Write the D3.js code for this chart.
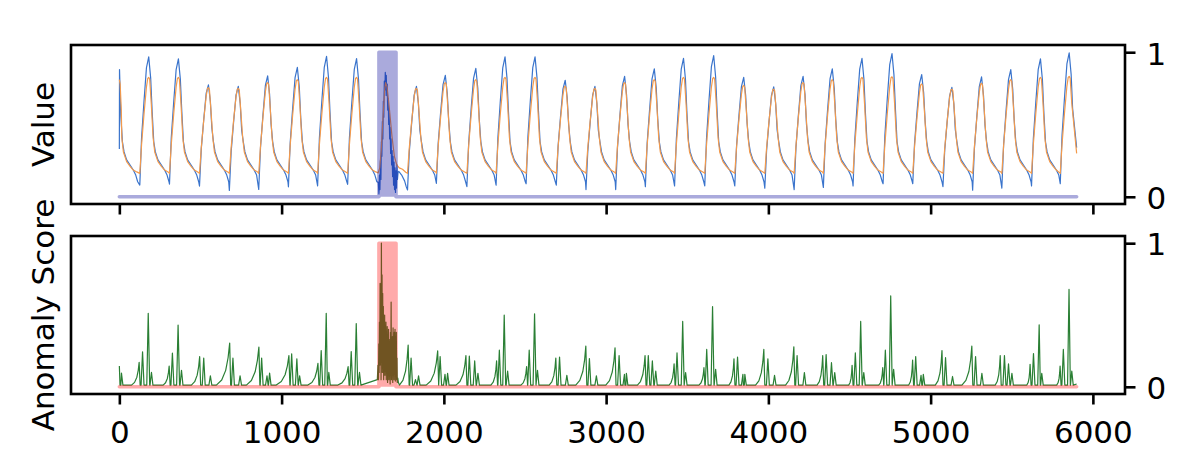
<!DOCTYPE html>
<html>
<head>
<meta charset="utf-8">
<script src="https://cdn.jsdelivr.net/npm/d3@7"></script>
<style>
  body { margin: 0; background: #fff; }
  svg { display: block; }
  text { font-family: "DejaVu Sans", sans-serif; }
</style>
</head>
<body>
<div id="chart"></div>
<script>
// --- valeurs ---
// position (x) des sommets de chaque cycle, hauteur du signal et du creux qui le précède
const peakX = [-12, 181, 364, 549, 733, 914, 1097, 1277, 1462, 1831, 2009, 2197, 2377, 2562, 2748, 2931,
  3114, 3297, 3477, 3663, 3848, 4033, 4214, 4394, 4577, 4762, 4945, 5131, 5314, 5494, 5677, 5854];
const bluePeak = [0.88, 0.968, 0.954, 0.774, 0.764, 0.837, 0.895, 0.972, 0.956, 0.764, 0.84, 0.889, 0.968,
  0.968, 0.806, 0.764, 0.833, 0.885, 0.958, 0.977, 0.826, 0.76, 0.833, 0.885, 0.958, 0.991, 0.845, 0.757,
  0.829, 0.88, 0.954, 0.996];
const blueTrough = [null, 0.081, 0.088, 0.074, 0.044, 0.051, 0.069, 0.076, 0.086, 0.047, 0.093, 0.07, 0.08,
  0.09, 0.08, 0.05, 0.05, 0.07, 0.075, 0.075, 0.075, 0.06, 0.05, 0.065, 0.075, 0.09, 0.09, 0.07, 0.045,
  0.06, 0.075, 0.09];
const orangePeak = [0.81, 0.826, 0.826, 0.755, 0.75, 0.79, 0.81, 0.826, 0.826, 0.75, 0.79, 0.81, 0.826,
  0.826, 0.765, 0.75, 0.79, 0.81, 0.826, 0.826, 0.77, 0.745, 0.79, 0.81, 0.826, 0.83, 0.78, 0.745, 0.785,
  0.81, 0.826, 0.833];
const orangeFloor = 0.162;

// forme d'un cycle, relevée sur un battement (décalage depuis le sommet)
const blueRiseDx = [-44, -29, -14], blueRiseFrac = [0.37, 0.655, 0.915];
const blueFallDx = [12, 21], blueFallFrac = [0.836, 0.576];
const blueTailDx = [31, 41, 57, 78, 98, 113, 125];
const blueTailV = [0.38, 0.31, 0.255, 0.22, 0.185, 0.15, 0.104];
const orangeRiseDx = [-44, -29, -14, -6], orangeRiseFrac = [0.3, 0.62, 0.9, 0.99];
const orangeFallDx = [6, 16], orangeFallFrac = [0.98, 0.72];
const orangeTailDx = [27, 37, 57, 78, 98, 119];
const orangeTailV = [0.41, 0.31, 0.243, 0.21, 0.185, 0.172];

// début, fin et zone d'anomalie
const blueHead = [[0, 0.33], [1, 0.88], [9, 0.56]];
const orangeHead = [[0, 0.81], [5, 0.78], [12, 0.6]];
const blueEnd = [5900, 0.34], orangeEnd = [5900, 0.3];
const blueAnomaly = [[1596, 0.10], [1600, 0.02], [1603, 0.15], [1606, 0.05], [1609, 0.25], [1612, 0.12],
  [1615, 0.38], [1618, 0.28], [1621, 0.52], [1624, 0.40], [1627, 0.66], [1630, 0.55], [1633, 0.80],
  [1636, 0.70], [1639, 0.86], [1642, 0.74], [1645, 0.84], [1648, 0.70], [1651, 0.78], [1654, 0.60],
  [1657, 0.68], [1660, 0.50], [1663, 0.58], [1666, 0.40], [1669, 0.48], [1672, 0.30], [1675, 0.40],
  [1678, 0.22], [1681, 0.32], [1684, 0.14], [1687, 0.28], [1690, 0.08], [1693, 0.24], [1696, 0.05],
  [1699, 0.20], [1702, 0.03], [1705, 0.18], [1708, 0.06], [1711, 0.22], [1714, 0.12], [1718, 0.17],
  [1722, 0.175], [1740, 0.15], [1758, 0.11], [1768, 0.07]];
const orangeAnomaly = [[1595, 0.165], [1605, 0.2], [1614, 0.32], [1625, 0.55], [1635, 0.74], [1641, 0.79],
  [1650, 0.76], [1665, 0.6], [1680, 0.42], [1695, 0.28], [1710, 0.22], [1725, 0.2], [1745, 0.19],
  [1765, 0.17]];
const labelX = [0, 1600, 1600, 1705, 1705, 5900];
const labelY = [0, 0, 1, 1, 0, 0];

// score d'anomalie : rampes [début, fin, hauteur], pics [x, hauteur]
const greenBase = 0.012;
const greenRamps = [[75, 122, 0.17], [270, 307, 0.145], [444, 495, 0.21], [598, 680, 0.305],
  [783, 860, 0.277], [967, 1045, 0.218], [1162, 1224, 0.163], [1347, 1410, 0.14], [1726, 1780, 0.29],
  [1891, 1962, 0.25], [2075, 2136, 0.217], [2290, 2325, 0.18], [2475, 2510, 0.14], [2649, 2690, 0.2],
  [2813, 2875, 0.283], [2998, 3055, 0.272], [3193, 3240, 0.217], [3388, 3419, 0.16], [3572, 3603, 0.133],
  [3757, 3788, 0.195], [3921, 3972, 0.26], [4106, 4157, 0.278], [4300, 4335, 0.217], [4495, 4516, 0.15],
  [4680, 4705, 0.133], [4865, 4889, 0.186], [5029, 5070, 0.253], [5193, 5254, 0.283], [5398, 5429, 0.217],
  [5593, 5613, 0.157], [5777, 5798, 0.145]];
const rampFrac = [0, 0.4, 0.7, 0.88, 1], rampShape = [0, 0.12, 0.35, 0.65, 1];
const greenSpikes = [[0, 0.145], [13, 0.095], [143, 0.244], [178, 0.512], [198, 0.1], [327, 0.235],
  [362, 0.43], [383, 0.115], [520, 0.2], [561, 0.076], [700, 0.2], [744, 0.076], [877, 0.2], [910, 0.076],
  [926, 0.095], [1062, 0.23], [1094, 0.195], [1111, 0.076], [1244, 0.253], [1275, 0.512], [1291, 0.1],
  [1429, 0.245], [1460, 0.44], [1480, 0.1], [1798, 0.2], [1825, 0.05], [1844, 0.076], [1977, 0.21],
  [2007, 0.087], [2023, 0.094], [2157, 0.214], [2190, 0.18], [2210, 0.094], [2342, 0.255], [2372, 0.5],
  [2393, 0.11], [2526, 0.255], [2559, 0.508], [2577, 0.115], [2713, 0.207], [2758, 0.08], [2897, 0.197],
  [2940, 0.076], [3080, 0.217], [3113, 0.087], [3125, 0.094], [3260, 0.217], [3285, 0.18], [3306, 0.11],
  [3437, 0.236], [3472, 0.455], [3490, 0.099], [3620, 0.26], [3656, 0.559], [3675, 0.122], [3810, 0.207],
  [3843, 0.087], [3855, 0.087], [3997, 0.195], [4038, 0.08], [4177, 0.217], [4222, 0.099], [4356, 0.224],
  [4389, 0.168], [4409, 0.099], [4536, 0.236], [4569, 0.455], [4588, 0.099], [4721, 0.255], [4754, 0.633],
  [4772, 0.122], [4908, 0.21], [4941, 0.08], [4955, 0.087], [5092, 0.203], [5135, 0.072], [5277, 0.21],
  [5316, 0.094], [5455, 0.217], [5480, 0.16], [5501, 0.094], [5634, 0.232], [5669, 0.432], [5685, 0.094],
  [5818, 0.26], [5853, 0.678], [5870, 0.11]];
const greenAnomaly = [[1590, 0.05], [1594, 0.15], [1597, 0.05], [1599, 0.3], [1601, 0.1], [1603, 0.45],
  [1605, 0.15], [1607, 0.72], [1609, 0.2], [1611, 0.55], [1613, 0.05], [1615, 1.0], [1617, 0.3],
  [1619, 0.78], [1621, 0.1], [1623, 0.65], [1625, 0.2], [1627, 0.56], [1629, 0.05], [1631, 0.45],
  [1633, 0.15], [1635, 0.5], [1637, 0.08], [1639, 0.38], [1641, 0.2], [1643, 0.45], [1645, 0.05],
  [1647, 0.35], [1649, 0.12], [1651, 0.42], [1653, 0.03], [1655, 0.3], [1657, 0.1], [1659, 0.4],
  [1661, 0.05], [1663, 0.33], [1665, 0.15], [1667, 0.3], [1669, 0.02], [1671, 0.38], [1673, 0.1],
  [1675, 0.59], [1677, 0.05], [1679, 0.3], [1681, 0.12], [1683, 0.35], [1685, 0.03], [1687, 0.41],
  [1689, 0.1], [1691, 0.3], [1693, 0.05], [1695, 0.38], [1697, 0.1], [1699, 0.4], [1701, 0.04],
  [1703, 0.3], [1705, 0.1], [1707, 0.38], [1709, 0.05], [1711, 0.2], [1713, 0.03], [1716, 0.06],
  [1720, 0.03]];
const greenEnd = [5900, 0.02];

const xTicks = [0, 1000, 2000, 3000, 4000, 5000, 6000];
const yTicks = [0, 1];

// --- construction des séries ---
let blue = blueHead.slice();
let orange = orangeHead.slice();
peakX.forEach((p, i) => {
  const next = i < peakX.length - 1 ? peakX[i + 1] : 5890;
  if (i > 0) {
    const T = blueTrough[i], H = bluePeak[i], O = orangePeak[i];
    blue.push([p - 55, T]);
    blueRiseDx.forEach((dx, k) => blue.push([p + dx, T + blueRiseFrac[k] * (H - T)]));
    blue.push([p, H]);
    blueFallDx.forEach((dx, k) => blue.push([p + dx, T + blueFallFrac[k] * (H - T)]));
    orange.push([p - 55, orangeFloor]);
    orangeRiseDx.forEach((dx, k) => orange.push([p + dx, orangeFloor + orangeRiseFrac[k] * (O - orangeFloor)]));
    orange.push([p, O]);
    orangeFallDx.forEach((dx, k) => orange.push([p + dx, orangeFloor + orangeFallFrac[k] * (O - orangeFloor)]));
  }
  blueTailDx.forEach((dx, k) => { if (p + dx < next - 56) blue.push([p + dx, blueTailV[k]]); });
  orangeTailDx.forEach((dx, k) => { if (p + dx < next - 58) orange.push([p + dx, orangeTailV[k]]); });
});
blue = blue.concat(blueAnomaly, [blueEnd]).sort((a, b) => a[0] - b[0]);
orange = orange.concat(orangeAnomaly, [orangeEnd]).sort((a, b) => a[0] - b[0]);

let green = [];
greenRamps.forEach(([x0, x1, v]) => {
  rampFrac.forEach((f, k) => green.push([x0 + f * (x1 - x0), greenBase + rampShape[k] * (v - greenBase)]));
  green.push([x1 + 6, greenBase]);
});
greenSpikes.forEach(([sx, v]) => {
  green.push([sx - 9, greenBase], [sx, v], [sx + 9, greenBase]);
});
green = green.concat(greenAnomaly, [greenEnd]).filter(d => d[0] >= 0).sort((a, b) => a[0] - b[0]);

const label = labelX.map((lx, i) => [lx, labelY[i]]);

// --- dessin ---
const W = 1200, H = 474;
const FS = "31px";
const svg = d3.select("#chart").append("svg").attr("width", W).attr("height", H);
svg.append("rect").attr("width", W).attr("height", H).attr("fill", "#fff");

const x = d3.scaleLinear().domain([-298, 6198]).range([71, 1125]);
const yTop = d3.scaleLinear().domain([-0.05, 1.05]).range([204, 45]);
const yBot = d3.scaleLinear().domain([-0.05, 1.05]).range([394, 236]);

function panel(y, series, bandColor, showLabels, title) {
  const g = svg.append("g");
  series.forEach(s => {
    g.append("path")
      .datum(s.data)
      .attr("fill", "none")
      .attr("stroke", s.color)
      .attr("stroke-width", 1.2)
      .attr("stroke-linejoin", "round")
      .attr("d", d3.line().x(d => x(d[0])).y(d => y(d[1])));
  });

  // zone étiquetée, translucide par-dessus
  const band = g.append("g").attr("opacity", 0.33);
  band.append("path")
    .datum(label)
    .attr("fill", bandColor)
    .attr("stroke", bandColor)
    .attr("stroke-width", 3.6)
    .attr("stroke-linejoin", "round")
    .attr("stroke-linecap", "round")
    .attr("d", d3.line().x(d => x(d[0])).y(d => y(d[1])));

  const [r0, r1] = y.range();
  g.append("rect")
    .attr("x", 71).attr("y", r1)
    .attr("width", 1125 - 71).attr("height", r0 - r1)
    .attr("fill", "none").attr("stroke", "#000").attr("stroke-width", 2.6);

  // axe x
  const ax = g.append("g")
    .attr("transform", `translate(0, ${r0})`)
    .call(d3.axisBottom(x).tickValues(xTicks).tickSize(10.5).tickPadding(16)
      .tickFormat(showLabels ? d3.format("d") : () => ""));
  ax.select(".domain").remove();
  ax.selectAll("line").attr("stroke", "#000").attr("stroke-width", 2.6);
  ax.selectAll("text").attr("fill", "#000").style("font-size", FS);

  // axe y à droite
  const ay = g.append("g")
    .attr("transform", "translate(1125, 0)")
    .call(d3.axisRight(y).tickValues(yTicks).tickSize(10.5).tickPadding(11).tickFormat(d3.format("d")));
  ay.select(".domain").remove();
  ay.selectAll("line").attr("stroke", "#000").attr("stroke-width", 2.6);
  ay.selectAll("text").attr("fill", "#000").attr("dy", "0.38em").style("font-size", FS);

  g.append("text")
    .attr("transform", `translate(54, ${(r0 + r1) / 2}) rotate(-90)`)
    .attr("text-anchor", "middle")
    .style("font-size", FS)
    .text(title);
}

panel(yTop, [{ data: blue, color: "#3a74cc" }, { data: orange, color: "#f39a4c" }], "rgb(0,0,150)", false, "Value");
panel(yBot, [{ data: green, color: "#2a7f34" }], "rgb(255,0,0)", true, "Anomaly Score");
</script>
</body>
</html>
